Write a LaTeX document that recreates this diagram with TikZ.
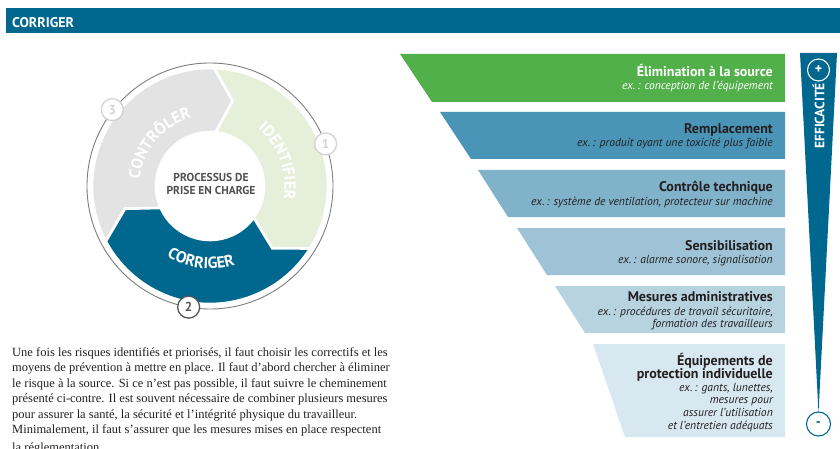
\documentclass[tikz,border=0pt]{standalone}
\usepackage{fontspec}
\setmainfont{Liberation Serif}
\setsansfont{PT Sans}
\newfontfamily\parafont{Liberation Serif}
\usetikzlibrary{decorations.text}
\definecolor{cblue}{HTML}{00678E}
\definecolor{segGreen}{HTML}{E5EFDA}
\definecolor{segGray}{HTML}{E3E3E3}
\definecolor{barA}{HTML}{52B04A}
\definecolor{barB}{HTML}{4A95B7}
\definecolor{barC}{HTML}{80B3CA}
\definecolor{barD}{HTML}{9FC3D6}
\definecolor{barE}{HTML}{B7D3E0}
\definecolor{barF}{HTML}{D8E8F0}
\definecolor{ink}{HTML}{231F20}
\definecolor{procText}{HTML}{505050}
\definecolor{ringLine}{HTML}{7D7D7D}
\definecolor{badgeLight}{HTML}{D2D2D2}
\definecolor{badgeDark}{HTML}{555555}
\tikzset{
  bartitle/.style={anchor=base east, inner sep=0pt, font=\sffamily\bfseries\fontsize{14}{14}\selectfont, text=ink},
  barsub/.style={anchor=base east, inner sep=0pt, font=\sffamily\itshape\fontsize{11.6}{11.6}\selectfont, text=ink},
  badge/.style={circle, fill=white, line width=1.3pt, minimum size=22pt, inner sep=0pt, font=\sffamily\bfseries\fontsize{13}{13}\selectfont},
  paraline/.style={anchor=base west, inner sep=0pt, font=\parafont\fontsize{12.5}{12.5}\selectfont, text=ink},
  proctext/.style={anchor=base, inner sep=0pt, font=\sffamily\bfseries\fontsize{11.5}{11.5}\selectfont, text=procText},
  segfill/.style={fill=#1, draw=white, line width=2.6pt, line join=miter}
}
\newcommand{\ringseg}[3]{%
  \path[segfill=#3] (#1+8:118) arc[start angle=#1+8, end angle=#2+8, radius=118]
    -- (#2-5:88) -- (#2+4:54) arc[start angle=#2+4, end angle=#1+4, radius=54]
    -- (#1-5:88) -- cycle;}
\newcommand{\segword}[4]{%
  \path[decorate, decoration={text along path, text align=center,
    text={|\sffamily\bfseries\fontsize{16}{16}\selectfont\color{white}|#4}}]
    (#1:#3) arc[start angle=#1, end angle=#2, radius=#3];}
\begin{document}
\begin{tikzpicture}[x=1pt,y=-1pt]
\useasboundingbox (0,0) rectangle (840,449);
% header
\fill[cblue] (6,8) rectangle (840,33);
\node[anchor=base west, inner sep=0pt, text=white, font=\sffamily\bfseries\fontsize{14}{14}\selectfont] (hdr) at (12,27.3) {CORRIGER};
% cycle
\begin{scope}[shift={(210,186)}, y=1pt]
  \draw[ringLine, line width=0.9pt] (0,0) circle[radius=123];
  \ringseg{200}{80}{segGray}
  \ringseg{80}{-40}{segGreen}
  \ringseg{-40}{-160}{cblue}
  \segword{70}{-30}{74.5}{IDENTIFIER}
  \segword{190}{90}{70.5}{CONTRÔLER}
  \segword{213}{313}{82.5}{CORRIGER}
  \node[proctext] (proc1) at (1,4.3) {PROCESSUS DE};
  \node[proctext] (proc2) at (1,-9) {PRISE EN CHARGE};
  \node[badge, draw=badgeLight, text=badgeLight] (b1) at (20:123) {1};
  \node[badge, draw=badgeDark, text=badgeDark] (b2) at (260:123) {2};
  \node[badge, draw=badgeLight, text=badgeLight] (b3) at (142:124) {3};
\end{scope}
% bars
\fill[barA] (400,54) -- (785,54) -- (785,102) -- (432,102) -- cycle;
\fill[barB] (440,112) -- (785,112) -- (785,159) -- (471,159) -- cycle;
\fill[barC] (478,170) -- (785,170) -- (785,217) -- (508,217) -- cycle;
\fill[barD] (517,228) -- (785,228) -- (785,275) -- (547,275) -- cycle;
\fill[barE] (555,286) -- (785,286) -- (785,333) -- (585,333) -- cycle;
\fill[barF] (593,344) -- (785,344) -- (785,437) -- (625,437) -- cycle;
\node[bartitle, text=white] (t1) at (773,76.5) {Élimination à la source};
\node[barsub, text=white] (s1) at (773,89.5) {ex.\,: conception de l’équipement};
\node[bartitle] (t2) at (773,134) {Remplacement};
\node[barsub] (s2) at (773,147) {ex.\,: produit ayant une toxicité plus faible};
\node[bartitle] (t3) at (773,192) {Contrôle technique};
\node[barsub] (s3) at (773,205.5) {ex.\,: système de ventilation, protecteur sur machine};
\node[bartitle] (t4) at (773,250) {Sensibilisation};
\node[barsub] (s4) at (773,263.5) {ex.\,: alarme sonore, signalisation};
\node[bartitle] (t5) at (773,301) {Mesures administratives};
\node[barsub] (s5a) at (773,315) {ex.\,: procédures de travail sécuritaire,};
\node[barsub] (s5b) at (773,327) {formation des travailleurs};
\node[bartitle] (t6a) at (773,365) {Équipements de};
\node[bartitle] (t6b) at (773,378.3) {protection individuelle};
\node[barsub] (s6a) at (773,391) {ex.\,: gants, lunettes,};
\node[barsub] (s6b) at (773,403.7) {mesures pour};
\node[barsub] (s6c) at (773,416.4) {assurer l’utilisation};
\node[barsub] (s6d) at (773,429) {et l’entretien adéquats};
% efficacite arrow
\fill[cblue] (800,53) -- (837,53) -- (818.5,413) -- cycle;
\node[circle, draw=white, line width=1.1pt, minimum size=22pt, inner sep=0pt, text=white, font=\sffamily\bfseries\fontsize{14}{14}\selectfont] (plus) at (818.5,70) {+};
\node[rotate=90, inner sep=0pt, text=white, font=\sffamily\bfseries\fontsize{13.5}{13.5}\selectfont] (eff) at (818.5,116) {EFFICACITÉ};
\node[circle, draw=cblue, fill=white, line width=1.1pt, minimum size=24pt, inner sep=0pt, text=cblue, font=\sffamily\bfseries\fontsize{14}{14}\selectfont] (minus) at (818.5,424) {-};
% paragraph
\node[paraline] (p1) at (12,356) {Une fois les risques identifiés et priorisés, il faut choisir les correctifs et les};
\node[paraline] (p2) at (12,371.5) {moyens de prévention à mettre en place. Il faut d’abord chercher à éliminer};
\node[paraline] (p3) at (12,387) {le risque à la source. Si ce n’est pas possible, il faut suivre le cheminement};
\node[paraline] (p4) at (12,402.5) {présenté ci-contre. Il est souvent nécessaire de combiner plusieurs mesures};
\node[paraline] (p5) at (12,418) {pour assurer la santé, la sécurité et l’intégrité physique du travailleur.};
\node[paraline] (p6) at (12,433.5) {Minimalement, il faut s’assurer que les mesures mises en place respectent};
\node[paraline] (p7) at (12,451.5) {la réglementation.};
\end{tikzpicture}
\end{document}
